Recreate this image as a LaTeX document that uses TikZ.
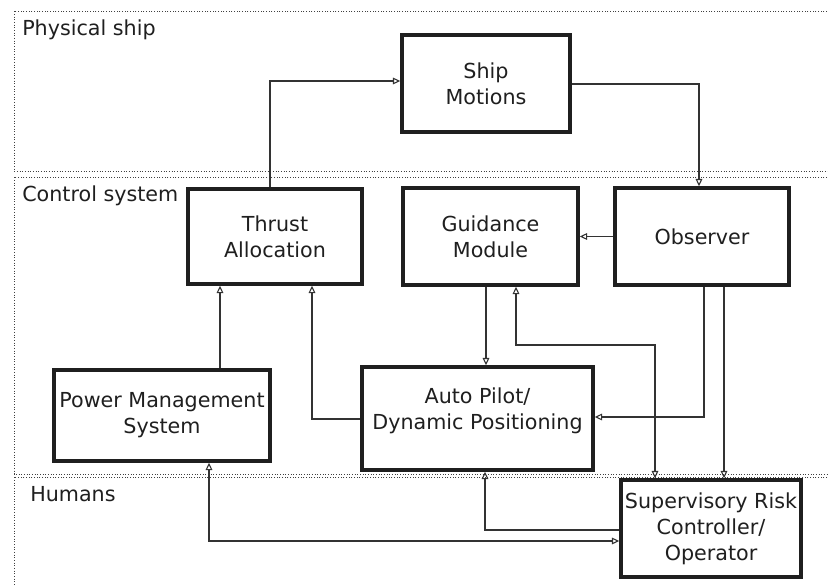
\documentclass[tikz,border=0pt]{standalone}
\usepackage{fontspec}
\setmainfont{DejaVu Sans}
\usetikzlibrary{arrows.meta}
\begin{document}
\begin{tikzpicture}[x=0.75pt,y=-0.75pt,
  region/.style={draw=black!75, line width=0.7pt, dash pattern=on 0.7pt off 1.3pt},
  box/.style={draw=black!88, line width=2.6pt, fill=white, align=center, inner sep=0pt,
    font=\fontsize{15.5pt}{19.5pt}\selectfont, text=black!88},
  txt/.style={align=center, inner sep=0pt, font=\fontsize{15.5pt}{19.5pt}\selectfont, text=black!88},
  lbl/.style={anchor=base west, inner sep=0pt, font=\fontsize{15.5pt}{19.5pt}\selectfont, text=black!88},
  arr/.style={draw=black!80, line width=1pt, -{Triangle[open, length=5.5pt, width=5pt, line width=0.8pt]}},
  arrb/.style={draw=black!80, line width=1pt, {Triangle[open, length=5.5pt, width=5pt, line width=0.8pt]}-{Triangle[open, length=5.5pt, width=5pt, line width=0.8pt]}}
]
\useasboundingbox (0,0) rectangle (828,585);
\fill[white] (0,0) rectangle (828,585);
% regions
\draw[region] (835,11) -- (14,11) -- (14,171) -- (835,171);
\draw[region] (835,177) -- (14,177) -- (14,474) -- (835,474);
\draw[region] (835,477) -- (14,477) -- (14,590);
\node[lbl] (lphys) at (22,36) {Physical ship};
\node[lbl] (lctrl) at (22,201) {Control system};
\node[lbl] (lhum) at (30,501) {Humans};
% boxes
\node[box, minimum width=126pt, minimum height=72.75pt] (ship) at (486,83.5) {Ship\\Motions};
\node[box, minimum width=130.5pt, minimum height=71.25pt] (thrust) at (275,236.5) {Thrust\\Allocation};
\node[box, minimum width=131.25pt, minimum height=72.75pt] (guid) at (490.5,236.5) {Guidance\\Module};
\node[box, minimum width=130.5pt, minimum height=72.75pt] (obs) at (702,236.5) {Observer};
\node[box, minimum width=162pt, minimum height=68.25pt] (pms) at (162,415.5) {Power Management\\System};
\node[box, minimum width=173.25pt, minimum height=77.25pt] (ap) at (477.5,418.5) {};
\node[txt] (aptxt) at (477.5,411) {Auto Pilot/\\Dynamic Positioning};
\node[box, minimum width=135pt, minimum height=72.75pt] (src) at (711,528.5) {Supervisory Risk\\Controller/\\Operator};
% helper coordinates
\coordinate (k1) at (270,81);
\coordinate (k2) at (699,84);
\coordinate (k4) at (486,0);
\coordinate (k5) at (704,417);
\coordinate (k6) at (724,0);
\coordinate (k7a) at (516,345);
\coordinate (k7b) at (655,345);
\coordinate (k8) at (312,419);
\coordinate (k9) at (220,0);
\coordinate (k10) at (485,530);
\coordinate (k11) at (209,541);
% connectors
\draw[arr] (thrust.north -| k1) |- (ship.west |- k1);
\draw[arr] (ship.east |- k2) -| (obs.north -| k2);
\draw[arr] (obs.west) -- (guid.east);
\draw[arr] (guid.south -| k4) -- (ap.north -| k4);
\draw[arr] (obs.south -| k5) |- (ap.east |- k5);
\draw[arr] (obs.south -| k6) -- (src.north -| k6);
\draw[arrb] (guid.south -| k7a) -- (k7a) -- (k7b) -- (src.north -| k7b);
\draw[arr] (ap.west |- k8) -| (thrust.south -| k8);
\draw[arr] (pms.north -| k9) -- (thrust.south -| k9);
\draw[arr] (src.west |- k10) -| (ap.south -| k10);
\draw[arrb] (pms.south -| k11) |- (src.west |- k11);
\end{tikzpicture}
\end{document}
